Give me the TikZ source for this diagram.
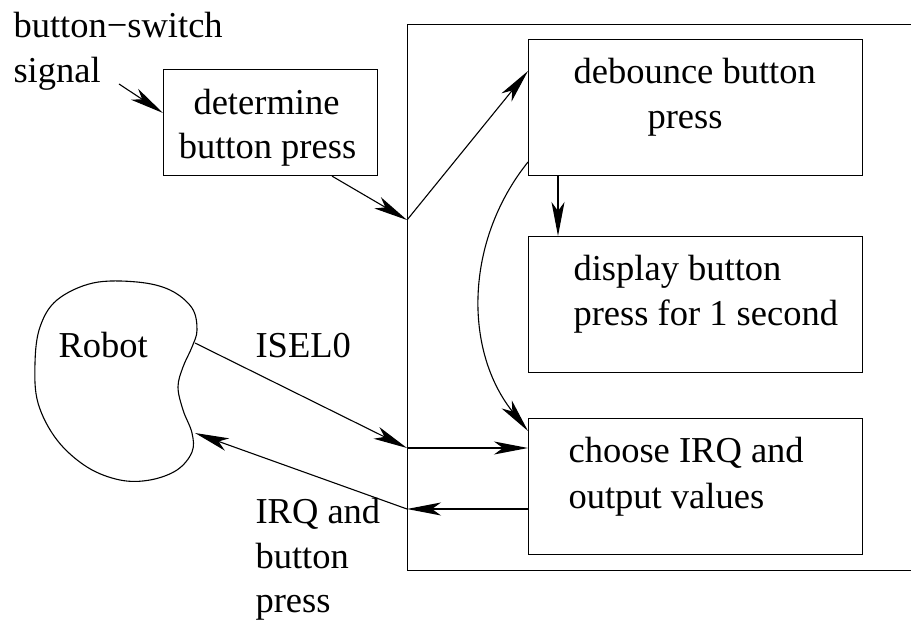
\documentclass[tikz,border=0pt]{standalone}
\usepackage{fontspec}
\setmainfont{Liberation Serif}
\usetikzlibrary{arrows.meta,calc}
\begin{document}
\begin{tikzpicture}[x=1pt,y=-1pt,line width=1.1pt,
  box/.style={draw,line width=1.1pt,inner sep=0pt,anchor=north west},
  lbl/.style={inner sep=0pt,anchor=base west,font=\fontsize{36.5}{45}\selectfont},
  arr/.style={-{Stealth[length=34pt,width=13pt,inset=9pt]}}]
\useasboundingbox (0,0) rectangle (911,620);
% outer system box (right side cut off by the picture edge)
\node[box,minimum width=560pt,minimum height=546pt] (sys) at (407,24) {};
% boxes
\node[box,minimum width=214pt,minimum height=106pt] (det) at (163,69) {};
\node[box,minimum width=334pt,minimum height=136pt] (deb) at (528,39) {};
\node[box,minimum width=334pt,minimum height=136pt] (disp) at (528,236) {};
\node[box,minimum width=334pt,minimum height=136pt] (cho) at (528,418) {};
% robot blob
\draw plot[smooth cycle,tension=0.6] coordinates {
 (137,282) (170,290) (192,308) (197,330) (192,347) (183,367) (178,387)
 (183,410) (192,433) (192,452) (177,470) (150,480) (120,480) (87,467)
 (57,440) (38,403) (35,363) (40,327) (57,300) (93,283)};
% texts
\node[lbl] (t1) at (13,38) {button−switch};
\node[lbl] (t2) at (13,83) {signal};
\node[lbl,anchor=base] (t3) at (266.5,115) {determine};
\node[lbl,anchor=base] (t4) at (267.5,159) {button press};
\node[lbl] (t5) at (573,84) {debounce button};
\node[lbl] (t6) at (647,129) {press};
\node[lbl] (t7) at (573,281) {display button};
\node[lbl] (t8) at (573,326) {press for 1 second};
\node[lbl] (t9) at (568,463) {choose IRQ and};
\node[lbl] (t10) at (568,508) {output values};
\node[lbl] (robot) at (58,358) {Robot};
\node[lbl] (isel) at (255,358) {ISEL0};
\node[lbl] (irq1) at (255,523) {IRQ and};
\node[lbl] (irq2) at (255,568) {button};
\node[lbl] (irq3) at (255,612) {press};
% junction and free-end coordinates
\coordinate (s0) at (119,84);
\coordinate (j1) at (407,220);
\coordinate (j2) at (407,448);
\coordinate (j3) at (407,509);
\coordinate (r1) at (195,343);
\coordinate (r2) at (195,433);
% connectors
\draw[arr] (s0) -- ($(det.north west)+(0,44)$);
\draw[arr] ($(det.south west)+(169,0)$) -- (j1);
\draw[arr] (j1) -- ($(deb.north west)+(0,32)$);
\draw[arr] ($(deb.south west)+(30,0)$) -- ($(disp.north west)+(30,0)$);
\draw[arr] ($(deb.north west)+(0,123)$) .. controls (464,242) and (464,351) .. ($(cho.north west)+(0,13)$);
\draw[arr] (r1) -- (j2);
\draw[arr] (j2) -- ($(cho.north west)+(0,30)$);
\draw[arr] ($(cho.north west)+(0,91)$) -- (j3);
\draw[arr] (j3) -- (r2);
\end{tikzpicture}
\end{document}
